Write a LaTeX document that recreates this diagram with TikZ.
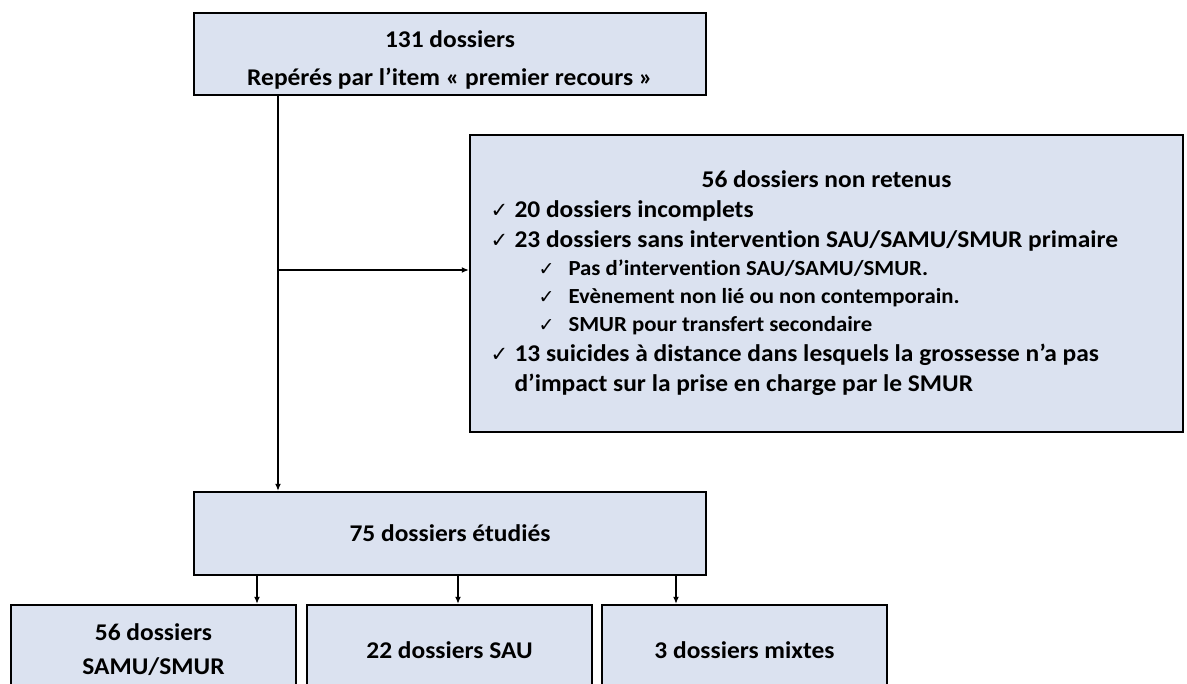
\documentclass[tikz,border=0pt]{standalone}
\usepackage{fontspec}
\usepackage{tikz}
\usepackage{xcolor}
\usetikzlibrary{arrows.meta}
\setmainfont[FakeStretch=1.06, Ligatures=NoCommon]{Carlito}
\newfontfamily\checkfont{DejaVu Sans}
\definecolor{boxfill}{RGB}{219,226,240}
\newcommand{\chk}{\makebox[24pt][l]{\checkfont\fontsize{21}{21}\selectfont ✓}}
\newcommand{\subchk}{\hspace*{48pt}\makebox[30pt][l]{\checkfont\fontsize{19}{19}\selectfont ✓}}
\tikzset{
    flow-box/.style = {draw=black, fill=boxfill, line width=2.4pt, rectangle, inner sep=0pt, align=center, font=\bfseries\fontsize{24}{38}\selectfont},
    flow-arrow/.style = {line width=1.3pt, -{Latex[length=7pt,width=6pt]}},
}

\begin{document}
\begin{tikzpicture}[x=1pt,y=-1pt]
\useasboundingbox[fill=white] (0,0) rectangle (1187,684);
\node [flow-box, minimum width=512pt, minimum height=82pt] (start) at (450,54) {\rule{0pt}{28pt}131 dossiers\\Repérés par l’item « premier recours »};
\node [flow-box, minimum width=713pt, minimum height=297pt] (excluded) at (826.5,283.5) {\begin{minipage}{672pt}
    \fontsize{24}{30}\selectfont
    \centering 56 dossiers non retenus\par
    \raggedright
    \chk 20 dossiers incomplets\par
    \chk 23 dossiers sans intervention SAU/SAMU/SMUR primaire\par
    {\fontsize{21.5}{28}\selectfont
    \subchk Pas d’intervention SAU/SAMU/SMUR.\par
    \subchk Evènement non lié ou non contemporain.\par
    \subchk SMUR pour transfert secondaire\par}
    \chk 13 suicides à distance dans lesquels la grossesse n’a pas\par
    \hspace*{24pt}d’impact sur la prise en charge par le SMUR\par
\end{minipage}};
\node [flow-box, minimum width=512pt, minimum height=83pt] (studied) at (450,533.5) {75 dossiers étudiés};
\node [flow-box, minimum width=285pt, minimum height=90pt, font=\bfseries\fontsize{24}{34}\selectfont] (samu) at (153.5,650) {56 dossiers\\SAMU/SMUR};
\node [flow-box, minimum width=285pt, minimum height=90pt] (sau) at (449.5,650) {22 dossiers SAU};
\node [flow-box, minimum width=285pt, minimum height=90pt] (mixed) at (744.5,650) {3 dossiers mixtes};

% connectors
\coordinate (trunk) at (278,95);
\coordinate (branch) at (278,270);
\coordinate (to-samu) at (257,0);
\coordinate (to-sau) at (458,0);
\coordinate (to-mixed) at (676,0);
\draw [flow-arrow] (trunk) -- (trunk |- studied.north);
\draw [flow-arrow] (branch) -- (branch -| excluded.west);
\draw [flow-arrow] (studied.south -| to-samu) -- (to-samu |- samu.north);
\draw [flow-arrow] (studied.south -| to-sau) -- (to-sau |- sau.north);
\draw [flow-arrow] (studied.south -| to-mixed) -- (to-mixed |- mixed.north);
\end{tikzpicture}
\end{document}
